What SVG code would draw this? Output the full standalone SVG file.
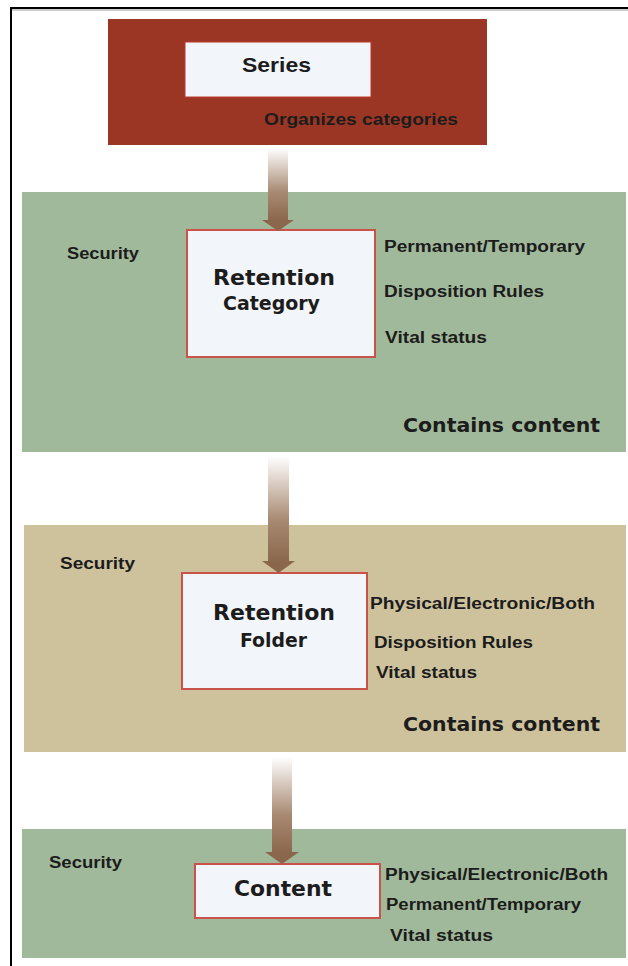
<svg xmlns="http://www.w3.org/2000/svg" width="628" height="966" viewBox="0 0 628 966">
<defs>
<linearGradient id="shaft" x1="0" y1="0" x2="0" y2="1">
<stop offset="0" stop-color="#ffffff"/>
<stop offset="0.6" stop-color="#a88a72"/>
<stop offset="1" stop-color="#8a674c"/>
</linearGradient>
<style>
text{font-family:"Liberation Sans","DejaVu Sans",sans-serif;fill:#1c1c1c;font-weight:bold}
.attr{font-size:16px}
.title{font-family:"DejaVu Sans","Liberation Sans",sans-serif;font-size:20px}
.box{fill:#f2f5f9;stroke:#c9524a;stroke-width:2}
.green{fill:#a1b99b}
.tan{fill:#cec29c}
.head{fill:#8a674c}
</style>
</defs>
<rect width="628" height="966" fill="#ffffff"/>
<path d="M11,966 V8 H628" fill="none" stroke="#000" stroke-width="2"/>
<line x1="12" y1="10" x2="628" y2="10" stroke="#999" stroke-width="1"/>

<g id="series">
<rect x="108" y="19" width="379" height="126" fill="#9b3625"/>
<rect x="185" y="42" width="186" height="55" fill="#f2f5f9" stroke="#c0392b" stroke-width="1"/>
<text x="242" y="72" class="attr" style="font-size:21px" textLength="69" lengthAdjust="spacingAndGlyphs">Series</text>
<text x="264" y="125" class="attr" style="font-size:17px" textLength="194" lengthAdjust="spacingAndGlyphs">Organizes categories</text>
</g>

<g id="retention-category">
<rect x="22" y="192" width="604" height="260" class="green"/>
<text x="67" y="259" class="attr" textLength="72" lengthAdjust="spacingAndGlyphs">Security</text>
<rect x="187" y="230" width="188" height="127" class="box"/>
<text x="213" y="285" class="title" style="font-size:21px" textLength="122" lengthAdjust="spacingAndGlyphs">Retention</text>
<text x="223" y="310" class="title" textLength="97" lengthAdjust="spacingAndGlyphs">Category</text>
<text x="384" y="252" class="attr" textLength="201" lengthAdjust="spacingAndGlyphs">Permanent/Temporary</text>
<text x="384" y="297" class="attr" textLength="160" lengthAdjust="spacingAndGlyphs">Disposition Rules</text>
<text x="385" y="343" class="attr" textLength="102" lengthAdjust="spacingAndGlyphs">Vital status</text>
<text x="403" y="432" class="title" textLength="197" lengthAdjust="spacingAndGlyphs">Contains content</text>
</g>

<g id="retention-folder">
<rect x="24" y="525" width="602" height="227" class="tan"/>
<text x="60" y="569" class="attr" textLength="75" lengthAdjust="spacingAndGlyphs">Security</text>
<rect x="182" y="573" width="185" height="116" class="box"/>
<text x="213" y="620" class="title" style="font-size:21px" textLength="122" lengthAdjust="spacingAndGlyphs">Retention</text>
<text x="240" y="647" class="title" textLength="67" lengthAdjust="spacingAndGlyphs">Folder</text>
<text x="370" y="609" class="attr" textLength="225" lengthAdjust="spacingAndGlyphs">Physical/Electronic/Both</text>
<text x="374" y="648" class="attr" textLength="159" lengthAdjust="spacingAndGlyphs">Disposition Rules</text>
<text x="376" y="678" class="attr" textLength="101" lengthAdjust="spacingAndGlyphs">Vital status</text>
<text x="403" y="731" class="title" textLength="197" lengthAdjust="spacingAndGlyphs">Contains content</text>
</g>

<g id="content">
<rect x="22" y="829" width="604" height="129" class="green"/>
<text x="49" y="868" class="attr" textLength="73" lengthAdjust="spacingAndGlyphs">Security</text>
<rect x="195" y="864" width="185" height="54" class="box"/>
<text x="234" y="896" class="title" style="font-size:21px" textLength="98" lengthAdjust="spacingAndGlyphs">Content</text>
<text x="385" y="880" class="attr" textLength="223" lengthAdjust="spacingAndGlyphs">Physical/Electronic/Both</text>
<text x="386" y="910" class="attr" textLength="195" lengthAdjust="spacingAndGlyphs">Permanent/Temporary</text>
<text x="390" y="941" class="attr" textLength="103" lengthAdjust="spacingAndGlyphs">Vital status</text>
</g>

<g id="connectors">
<rect x="268" y="148" width="20" height="73" fill="url(#shaft)"/>
<polygon points="262,220 294,220 278,231" class="head"/>
<rect x="268" y="456" width="21" height="106" fill="url(#shaft)"/>
<polygon points="262,561 295,561 278.5,573" class="head"/>
<rect x="272" y="757" width="20" height="96" fill="url(#shaft)"/>
<polygon points="265,852 299,852 282,864" class="head"/>
</g>
</svg>
